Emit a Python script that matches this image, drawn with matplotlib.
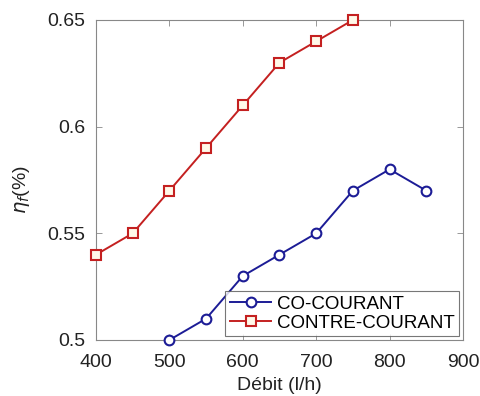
import matplotlib
matplotlib.use("Agg")
import matplotlib.pyplot as plt

co_x = [500, 550, 600, 650, 700, 750, 800, 850]
co_courant = [0.50, 0.51, 0.53, 0.54, 0.55, 0.57, 0.58, 0.57]
contre_x = [400, 450, 500, 550, 600, 650, 700, 750]
contre_courant = [0.54, 0.55, 0.57, 0.59, 0.61, 0.63, 0.64, 0.65]

xticks = [400, 500, 600, 700, 800, 900]
yticks = [0.5, 0.55, 0.6, 0.65]
yticklabels = ["0.5", "0.55", "0.6", "0.65"]

plt.rcParams['font.family'] = ['Liberation Sans', 'DejaVu Sans']

fig = plt.figure(figsize=(4.81, 3.96), dpi=100)
ax = fig.add_axes([96/481, 1 - 340/396, (463-96)/481, (340-20)/396])

ax.plot(co_x, co_courant, color='#1c1c96', marker='o', markersize=7,
        markerfacecolor='white', markeredgewidth=1.5, linewidth=1.4,
        label='CO-COURANT', clip_on=False, zorder=3)
ax.plot(contre_x, contre_courant, color='#c42020', marker='s', markersize=7,
        markerfacecolor='#fff8e8', markeredgewidth=1.5, linewidth=1.4,
        label='CONTRE-COURANT', clip_on=False, zorder=3)

ax.set_xlim(400, 900)
ax.set_ylim(0.5, 0.65)
ax.set_xticks(xticks)
ax.set_yticks(yticks)
ax.set_yticklabels(yticklabels)
ax.tick_params(direction='in', top=True, right=True, labelsize=14,
               length=4, width=0.6, color='#888888', labelcolor='#222222')
ax.tick_params(axis='x', pad=10)
ax.tick_params(axis='y', pad=8)
for s in ax.spines.values():
    s.set_color('#888888')
    s.set_linewidth(0.8)

ax.set_xlabel('Débit (l/h)', fontsize=14, color='#222222')
ax.set_ylabel(r'$\eta_f$(%)', fontsize=14, color='#222222')
ax.xaxis.set_label_coords(0.5, -0.115)
ax.yaxis.set_label_coords(-0.175, 0.47)

leg = ax.legend(loc='lower right', fontsize=13.5, frameon=True, fancybox=False,
                borderpad=0.25, handlelength=2.2, handletextpad=0.3,
                labelspacing=0.1, borderaxespad=0.2)
leg.get_frame().set_edgecolor('#555555')
leg.get_frame().set_linewidth(0.8)
leg.set_zorder(5)

fig.savefig('out.png', dpi=100)
